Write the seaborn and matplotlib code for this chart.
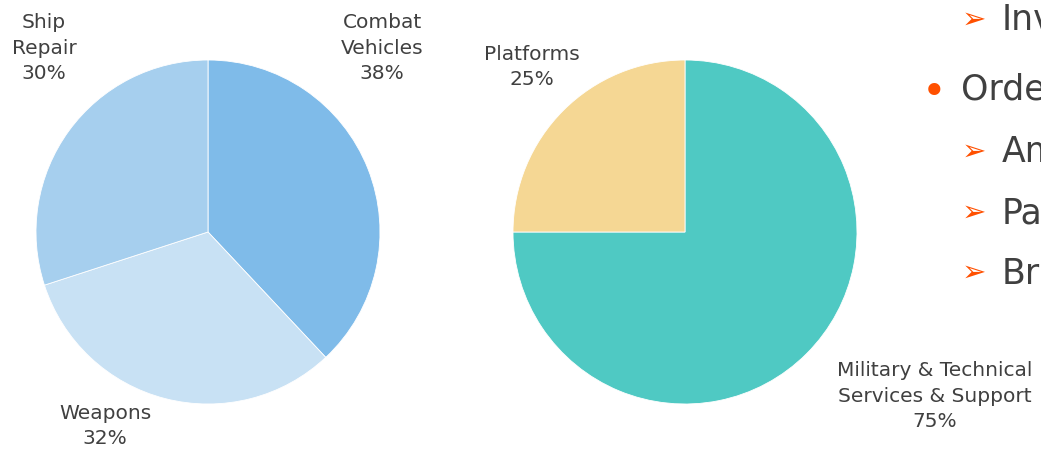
import matplotlib
matplotlib.use("Agg")
import matplotlib.pyplot as plt
import seaborn as sns

# left pie: business segments
seg_labels = ['Combat\nVehicles', 'Weapons', 'Ship\nRepair']
seg_values = [38, 32, 30]
seg_colors = ['#7fbbe9', '#c8e1f4', '#a6cfee']

# right pie: revenue type
rev_labels = ['Military & Technical\nServices & Support', 'Platforms']
rev_values = [75, 25]
rev_colors = ['#4fc9c3', '#f5d794']

# bullet text on the right (cut off at the figure edge)
bullets = ['Inv', 'Orde', 'Am', 'Pa', 'Bra']
bullet_kind = ['arrow', 'dot', 'arrow', 'arrow', 'arrow']

sns.set_theme(style='white')
plt.rcParams['font.family'] = ['DejaVu Sans']

W, H = 1041, 449
fig = plt.figure(figsize=(W / 100, H / 100), dpi=100)
txt = '#404040'


def px_axes(cx, cy, r):
    return fig.add_axes([(cx - r) / W, (H - cy - r) / H, 2 * r / W, 2 * r / H])


def draw_pie(ax, values, colors):
    ax.pie(values, colors=colors, startangle=90, counterclock=False,
           wedgeprops=dict(linewidth=0.6, edgecolor='white'))
    ax.set_xlim(-1, 1)
    ax.set_ylim(-1, 1)
    ax.axis('off')


ax1 = px_axes(208, 232, 172)
draw_pie(ax1, seg_values, seg_colors)
ax2 = px_axes(685, 232, 172)
draw_pie(ax2, rev_values, rev_colors)


def label(x, y, name, val):
    fig.text(x / W, 1 - y / H, f'{name}\n{val}%', ha='center', va='center',
             fontsize=14.5, color=txt, linespacing=1.42)


label(382, 48, seg_labels[0], seg_values[0])
label(105, 426, seg_labels[1], seg_values[1])
label(44, 48, seg_labels[2], seg_values[2])
label(935, 396, rev_labels[0], rev_values[0])
label(532, 67, rev_labels[1], rev_values[1])

ys = [20, 89, 152, 213, 273]
for word, kind, y in zip(bullets, bullet_kind, ys):
    if kind == 'arrow':
        fig.text(962 / W, 1 - y / H, '\u27a2', ha='left', va='center',
                 fontsize=21, color='#ff5000')
        fig.text(1002 / W, 1 - y / H, word, ha='left', va='center',
                 fontsize=25, color=txt)
    else:
        fig.text(922 / W, 1 - (y + 4) / H, '\u2022', ha='left', va='center',
                 fontsize=30, color='#ff5000')
        fig.text(961 / W, 1 - y / H, word, ha='left', va='center',
                 fontsize=25, color=txt)

fig.savefig('out.png', dpi=100)
